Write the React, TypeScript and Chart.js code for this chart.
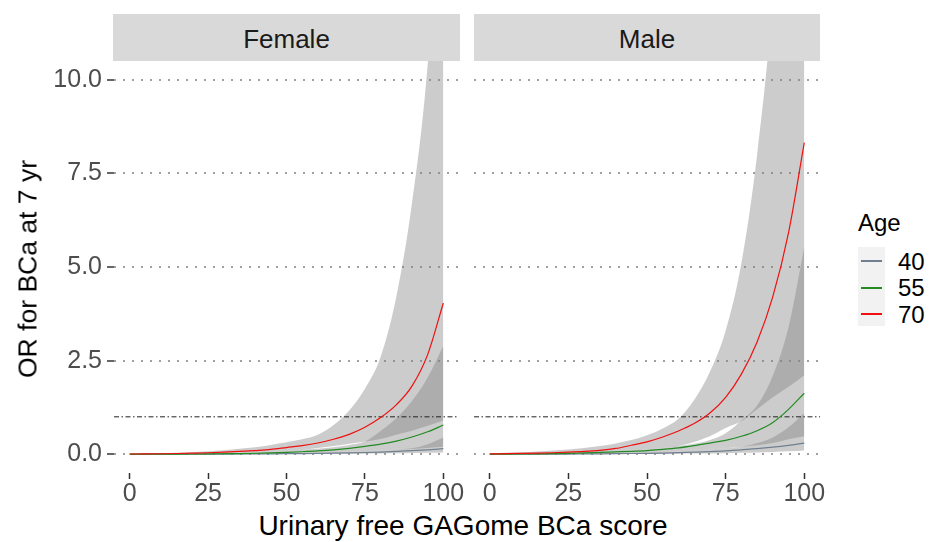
import React, { useEffect, useRef } from "react";
import { Chart, registerables } from "chart.js";
Chart.register(...registerables);

const FONT = "'Liberation Sans', Arial, Helvetica, sans-serif";

// ---------- data ----------
const SCORES = [0, 5, 10, 15, 20, 25, 30, 35, 40, 45, 50, 55, 60, 65, 70, 75, 80, 85, 90, 95, 100];
const X_TICKS = [0, 25, 50, 75, 100];
const Y_TICKS = [0, 2.5, 5, 7.5, 10];
const X_MIN = -5;
const X_MAX = 105;
const Y_MIN = -0.5;
const Y_MAX = 10.5;
const REF_OR = 1;
const PANELS = ["Female", "Male"];
const AGES = ["40", "55", "70"];
const AGE_COLORS = ["#708090", "#228B22", "#F01010"];

// Female
const F_EST_70 = [0.007, 0.01, 0.014, 0.02, 0.028, 0.04, 0.055, 0.075, 0.1, 0.13, 0.18, 0.23, 0.3, 0.4, 0.53, 0.72, 0.98, 1.32, 1.82, 2.66, 4.04];
const F_HI_70 = [0.02, 0.025, 0.03, 0.04, 0.055, 0.08, 0.11, 0.15, 0.19, 0.25, 0.32, 0.4, 0.52, 0.78, 1.17, 1.75, 2.6, 4.2, 6.7, 10.4, 17];
const F_LO_70 = [0.005, 0.007, 0.01, 0.013, 0.018, 0.025, 0.032, 0.042, 0.055, 0.07, 0.09, 0.12, 0.165, 0.22, 0.28, 0.34, 0.41, 0.52, 0.63, 0.76, 0.9];
const F_EST_55 = [0.002, 0.003, 0.004, 0.005, 0.007, 0.01, 0.014, 0.019, 0.027, 0.037, 0.05, 0.068, 0.09, 0.12, 0.16, 0.21, 0.27, 0.35, 0.46, 0.6, 0.78];
const F_HI_55 = [0.005, 0.007, 0.01, 0.013, 0.018, 0.025, 0.032, 0.042, 0.055, 0.07, 0.09, 0.12, 0.15, 0.19, 0.25, 0.34, 0.62, 0.96, 1.42, 2.05, 2.9];
const F_LO_55 = [0.0015, 0.002, 0.003, 0.004, 0.006, 0.008, 0.011, 0.015, 0.02, 0.026, 0.032, 0.04, 0.048, 0.058, 0.07, 0.085, 0.1, 0.12, 0.14, 0.17, 0.2];
const F_EST_40 = [0.001, 0.0015, 0.002, 0.0025, 0.003, 0.004, 0.0055, 0.007, 0.009, 0.012, 0.015, 0.019, 0.024, 0.03, 0.038, 0.048, 0.06, 0.075, 0.095, 0.12, 0.15];
const F_HI_40 = [0.0015, 0.002, 0.003, 0.004, 0.006, 0.008, 0.011, 0.015, 0.02, 0.026, 0.032, 0.04, 0.048, 0.058, 0.07, 0.085, 0.1, 0.12, 0.16, 0.27, 0.45];
const F_LO_40 = [0.0004, 0.0005, 0.0006, 0.0008, 0.001, 0.0015, 0.002, 0.0025, 0.003, 0.004, 0.005, 0.006, 0.008, 0.01, 0.013, 0.016, 0.02, 0.025, 0.032, 0.04, 0.05];

// Male
const M_EST_70 = [0.012, 0.016, 0.022, 0.03, 0.04, 0.055, 0.075, 0.105, 0.155, 0.24, 0.33, 0.46, 0.62, 0.82, 1.1, 1.52, 2.14, 3.0, 4.21, 5.92, 8.32];
const M_HI_70 = [0.03, 0.04, 0.055, 0.075, 0.1, 0.13, 0.17, 0.22, 0.29, 0.38, 0.51, 0.69, 0.95, 1.45, 2.2, 3.3, 5.1, 8.0, 12.2, 19, 30];
const M_LO_70 = [0.008, 0.011, 0.015, 0.02, 0.027, 0.036, 0.048, 0.062, 0.08, 0.1, 0.13, 0.17, 0.22, 0.33, 0.48, 0.7, 0.88, 1.2, 1.52, 1.8, 2.11];
const M_EST_55 = [0.004, 0.006, 0.009, 0.013, 0.018, 0.025, 0.035, 0.05, 0.065, 0.08, 0.1, 0.13, 0.17, 0.23, 0.3, 0.37, 0.48, 0.63, 0.85, 1.2, 1.63];
const M_HI_55 = [0.008, 0.011, 0.015, 0.02, 0.027, 0.036, 0.048, 0.062, 0.08, 0.1, 0.13, 0.17, 0.22, 0.28, 0.38, 0.56, 0.9, 1.3, 2.1, 3.4, 5.54];
const M_LO_55 = [0.002, 0.003, 0.0045, 0.0065, 0.009, 0.012, 0.016, 0.022, 0.03, 0.037, 0.046, 0.06, 0.075, 0.1, 0.13, 0.16, 0.2, 0.24, 0.3, 0.4, 0.48];
const M_EST_40 = [0.001, 0.0015, 0.002, 0.003, 0.004, 0.006, 0.008, 0.011, 0.015, 0.02, 0.026, 0.033, 0.042, 0.055, 0.07, 0.09, 0.12, 0.15, 0.19, 0.24, 0.3];
const M_HI_40 = [0.002, 0.003, 0.0045, 0.0065, 0.009, 0.012, 0.016, 0.022, 0.03, 0.037, 0.046, 0.06, 0.075, 0.1, 0.13, 0.16, 0.2, 0.3, 0.45, 0.72, 1.1];
const M_LO_40 = [0.0003, 0.0005, 0.0007, 0.001, 0.0013, 0.002, 0.0027, 0.0037, 0.005, 0.0067, 0.0087, 0.011, 0.014, 0.018, 0.023, 0.03, 0.04, 0.05, 0.063, 0.08, 0.1];

const PANEL_DATA = [
  { est: [F_EST_40, F_EST_55, F_EST_70], hi: [F_HI_40, F_HI_55, F_HI_70], lo: [F_LO_40, F_LO_55, F_LO_70] },
  { est: [M_EST_40, M_EST_55, M_EST_70], hi: [M_HI_40, M_HI_55, M_HI_70], lo: [M_LO_40, M_LO_55, M_LO_70] },
];

const RIBBON = "rgba(127,127,127,0.4)";

const toPts = (ys: number[]) => SCORES.map((x, i) => ({ x, y: ys[i] }));

function buildDatasets(p: typeof PANEL_DATA[number]) {
  const ds: any[] = [];
  for (let a = AGES.length - 1; a >= 0; a--) {
    ds.push({
      label: AGES[a],
      data: toPts(p.est[a]),
      borderColor: AGE_COLORS[a],
      borderWidth: 1.2,
      pointRadius: 0,
      fill: false,
      cubicInterpolationMode: "monotone",
    });
  }
  ds.push({
    label: "ref",
    data: [
      { x: X_MIN, y: REF_OR },
      { x: X_MAX, y: REF_OR },
    ],
    borderColor: "#222222",
    borderWidth: 1,
    borderDash: [5, 2.5, 1.5, 2.5],
    pointRadius: 0,
    fill: false,
  });
  for (let a = AGES.length - 1; a >= 0; a--) {
    const hiIndex = ds.length;
    ds.push({
      label: "hi" + AGES[a],
      data: toPts(p.hi[a]),
      borderWidth: 0,
      borderColor: "transparent",
      backgroundColor: RIBBON,
      pointRadius: 0,
      fill: hiIndex + 1,
      cubicInterpolationMode: "monotone",
    });
    ds.push({
      label: "lo" + AGES[a],
      data: toPts(p.lo[a]),
      borderWidth: 0,
      borderColor: "transparent",
      pointRadius: 0,
      fill: false,
      cubicInterpolationMode: "monotone",
    });
  }
  return ds;
}

function makeChart(canvas: HTMLCanvasElement, panelIndex: number) {
  const showY = panelIndex === 0;
  return new Chart(canvas, {
    type: "line",
    data: { datasets: buildDatasets(PANEL_DATA[panelIndex]) },
    options: {
      animation: false,
      responsive: false,
      devicePixelRatio: 1,
      layout: {
        autoPadding: false,
        padding: showY ? { top: 10, right: 7, left: 0, bottom: 0 } : { top: 10, right: 8, left: 6, bottom: 0 },
      },
      plugins: {
        legend: { display: false },
        tooltip: { enabled: false },
        filler: { drawTime: "beforeDatasetsDraw" },
      },
      scales: {
        x: {
          type: "linear",
          min: X_MIN,
          max: X_MAX,
          afterBuildTicks: (s: any) => {
            s.ticks = X_TICKS.map((v) => ({ value: v }));
          },
          afterFit: (s: any) => {
            s.height = 36;
            s.paddingLeft = 0;
            s.paddingRight = 0;
          },
          grid: {
            drawOnChartArea: false,
            drawTicks: true,
            tickLength: 6,
            tickColor: "#333333",
            tickWidth: 1.5,
          },
          border: { display: false },
          ticks: {
            color: "#4d4d4d",
            font: { family: FONT, size: 25 },
            padding: 0,
            maxRotation: 0,
            autoSkip: false,
          },
        },
        y: {
          type: "linear",
          min: Y_MIN,
          max: Y_MAX,
          afterBuildTicks: (s: any) => {
            s.ticks = Y_TICKS.map((v) => ({ value: v }));
          },
          afterFit: (s: any) => {
            s.width = showY ? 114 : 0;
            s.paddingTop = 0;
            s.paddingBottom = 0;
          },
          grid: {
            color: "#a0a0a0",
            lineWidth: 2,
            drawTicks: showY,
            tickLength: 7,
            tickColor: "#333333",
            tickWidth: 1.5,
          },
          border: { display: false, dash: [2, 7] },
          ticks: {
            display: showY,
            color: "#4d4d4d",
            font: { family: FONT, size: 25 },
            padding: 5,
            callback: (v: any) => Number(v).toFixed(1),
          },
        },
      },
    } as any,
  });
}

const STRIPS = [
  { left: 113, width: 347 },
  { left: 474, width: 346 },
];
const CANVASES = [
  { left: 0, width: 466 },
  { left: 468, width: 360 },
];
const CANVAS_TOP = 51;
const CANVAS_H = 458;

export default function App() {
  const ref0 = useRef<HTMLCanvasElement>(null);
  const ref1 = useRef<HTMLCanvasElement>(null);

  useEffect(() => {
    const charts = [makeChart(ref0.current!, 0), makeChart(ref1.current!, 1)];
    return () => charts.forEach((c) => c.destroy());
  }, []);

  const refs = [ref0, ref1];

  return (
    <div
      style={{
        position: "fixed",
        left: 0,
        top: 0,
        width: 929,
        height: 542,
        background: "#ffffff",
        fontFamily: FONT,
        overflow: "hidden",
      }}
    >
      {PANELS.map((name, i) => (
        <div
          key={name}
          style={{
            position: "absolute",
            left: STRIPS[i].left,
            top: 14,
            width: STRIPS[i].width,
            height: 47,
            background: "#d9d9d9",
            color: "#1a1a1a",
            fontSize: 26,
            lineHeight: "50px",
            textAlign: "center",
          }}
        >
          {name}
        </div>
      ))}
      {CANVASES.map((c, i) => (
        <canvas
          key={i}
          ref={refs[i]}
          width={c.width}
          height={CANVAS_H}
          style={{ position: "absolute", left: c.left, top: CANVAS_TOP, width: c.width, height: CANVAS_H }}
        />
      ))}
      <div
        style={{
          position: "absolute",
          left: 28,
          top: 269,
          transform: "translate(-50%, -50%) rotate(-90deg)",
          whiteSpace: "nowrap",
          fontSize: 26.5,
          color: "#000",
        }}
      >
        OR for BCa at 7 yr
      </div>
      <div
        style={{
          position: "absolute",
          left: 463,
          top: 526,
          transform: "translate(-50%, -50%)",
          whiteSpace: "nowrap",
          fontSize: 28,
          color: "#000",
        }}
      >
        Urinary free GAGome BCa score
      </div>
      <div
        style={{
          position: "absolute",
          left: 858,
          top: 208,
          fontSize: 24,
          lineHeight: "30px",
          color: "#000",
        }}
      >
        Age
      </div>
      <div
        style={{ position: "absolute", left: 858, top: 247, width: 27, height: 79, background: "#f2f2f2" }}
      />
      {AGES.map((a, i) => (
        <React.Fragment key={a}>
          <div
            style={{
              position: "absolute",
              left: 861,
              top: [260, 287, 313][i],
              width: 21,
              height: 2,
              background: AGE_COLORS[i],
            }}
          />
          <div
            style={{
              position: "absolute",
              left: 898,
              top: 249 + i * 26.3,
              fontSize: 24,
              lineHeight: "26px",
              color: "#000",
            }}
          >
            {a}
          </div>
        </React.Fragment>
      ))}
    </div>
  );
}
